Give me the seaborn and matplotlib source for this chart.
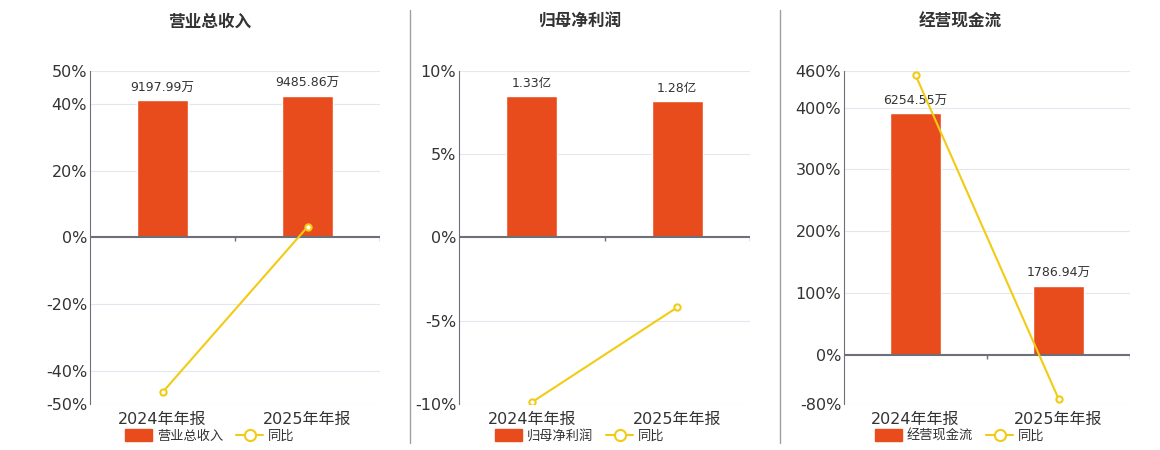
import matplotlib
matplotlib.use("Agg")
import matplotlib.pyplot as plt
import seaborn as sns
import pandas as pd
from matplotlib.lines import Line2D
from matplotlib.patches import Patch

sns.set_style("white")
plt.rcParams['font.family'] = ['DejaVu Sans', 'Noto Sans CJK SC']

periods = ["2024年年报", "2025年年报"]

titles = ["营业总收入", "归母净利润", "经营现金流"]
bar_values = [[9197.99, 9485.86], [1.33, 1.28], [6254.55, 1786.94]]
bar_labels = [["9197.99万", "9485.86万"], ["1.33亿", "1.28亿"], ["6254.55万", "1786.94万"]]
yoy = [[-46.5, 3.13], [-9.9, -4.2], [453.0, -71.4]]
yticks = [[-50, -40, -20, 0, 20, 40, 50], [-10, -5, 0, 5, 10], [-80, 0, 100, 200, 300, 400, 460]]

bar_color = "#E84C1D"
line_color = "#F2CB14"
text_color = "#333333"

fig = plt.figure(figsize=(11.6, 4.5), dpi=100)

lefts = [90, 459, 844]
widths = [290, 291, 286]
centers = [210, 580, 960]

for i in range(3):
    ax = fig.add_axes([lefts[i] / 1160, 1 - 404 / 450, widths[i] / 1160, (404 - 70.7) / 450])
    lo, hi = yticks[i][0], yticks[i][-1]
    ax.set_ylim(lo, hi)
    ax.set_yticks(yticks[i])
    ax.set_yticklabels([f"{t}%" for t in yticks[i]], fontsize=11.5, color=text_color)
    for s in ["top", "right", "bottom"]:
        ax.spines[s].set_visible(False)
    ax.spines["left"].set_color("#6E7079")
    ax.tick_params(axis="y", length=0, pad=2)
    ax.tick_params(axis="x", length=0, pad=6)

    # bars on a hidden axis sharing the zero line
    ax2 = ax.twinx()
    top_b = max(bar_values[i]) / 0.85
    ax2.set_ylim(top_b * lo / hi, top_b)
    for t in yticks[i]:
        if t != 0:
            ax2.axhline(t * top_b / hi, color="#E3E7F0", linewidth=0.8, zorder=0)
    df = pd.DataFrame({"period": periods, "value": bar_values[i]})
    sns.barplot(data=df, x="period", y="value", ax=ax2, color=bar_color,
                width=0.35, saturation=1, zorder=2)
    ax2.set_ylim(top_b * lo / hi, top_b)
    ax2.set_yticks([])
    ax2.set_ylabel("")
    ax2.set_xlabel("")
    for s in ax2.spines.values():
        s.set_visible(False)
    ax2.bar_label(ax2.containers[0], labels=bar_labels[i], padding=4,
                  fontsize=9, color=text_color)

    # yoy line in front
    ax.set_zorder(ax2.get_zorder() + 1)
    ax.patch.set_visible(False)
    ldf = pd.DataFrame({"period": periods, "yoy": yoy[i]})
    sns.lineplot(data=ldf, x="period", y="yoy", ax=ax, color=line_color, linewidth=1.5,
                 marker="o", markersize=4.5, markerfacecolor="white",
                 markeredgecolor=line_color, markeredgewidth=1.5, zorder=3)
    ax.set_xlim(-0.5, 1.5)
    ax.set_xlabel("")
    ax.set_ylabel("")
    ax.set_xticks([0, 1])
    ax.set_xticklabels(periods, fontsize=11.5, color=text_color)
    ax.axhline(0, color="#6E7079", linewidth=1.5, zorder=1)
    tick_len = (hi - lo) * 0.012
    ax.vlines([0.5, 1.5], -tick_len, 0, color="#6E7079", linewidth=1)

    fig.text(centers[i] / 1160, 1 - 22 / 450, titles[i], ha="center", va="center",
             fontsize=12, fontweight="bold", color=text_color)

    handles = [Patch(facecolor=bar_color, edgecolor=bar_color),
               Line2D([0], [0], color=line_color, linewidth=1.5, marker="o", markersize=8,
                      markerfacecolor="white", markeredgecolor=line_color, markeredgewidth=1.5)]
    fig.legend(handles, [titles[i], "同比"], loc="center",
               bbox_to_anchor=(centers[i] / 1160, 1 - 436 / 450), ncol=2, frameon=False,
               fontsize=9.5, labelcolor=text_color, handlelength=2.0, handleheight=1.0,
               columnspacing=1.0, handletextpad=0.4)

for xp in [410, 780]:
    fig.add_artist(Line2D([xp / 1160, xp / 1160], [1 - 10 / 450, 1 - 443 / 450],
                          color="#A0A0A0", linewidth=1))

fig.savefig("out.png", dpi=100)
